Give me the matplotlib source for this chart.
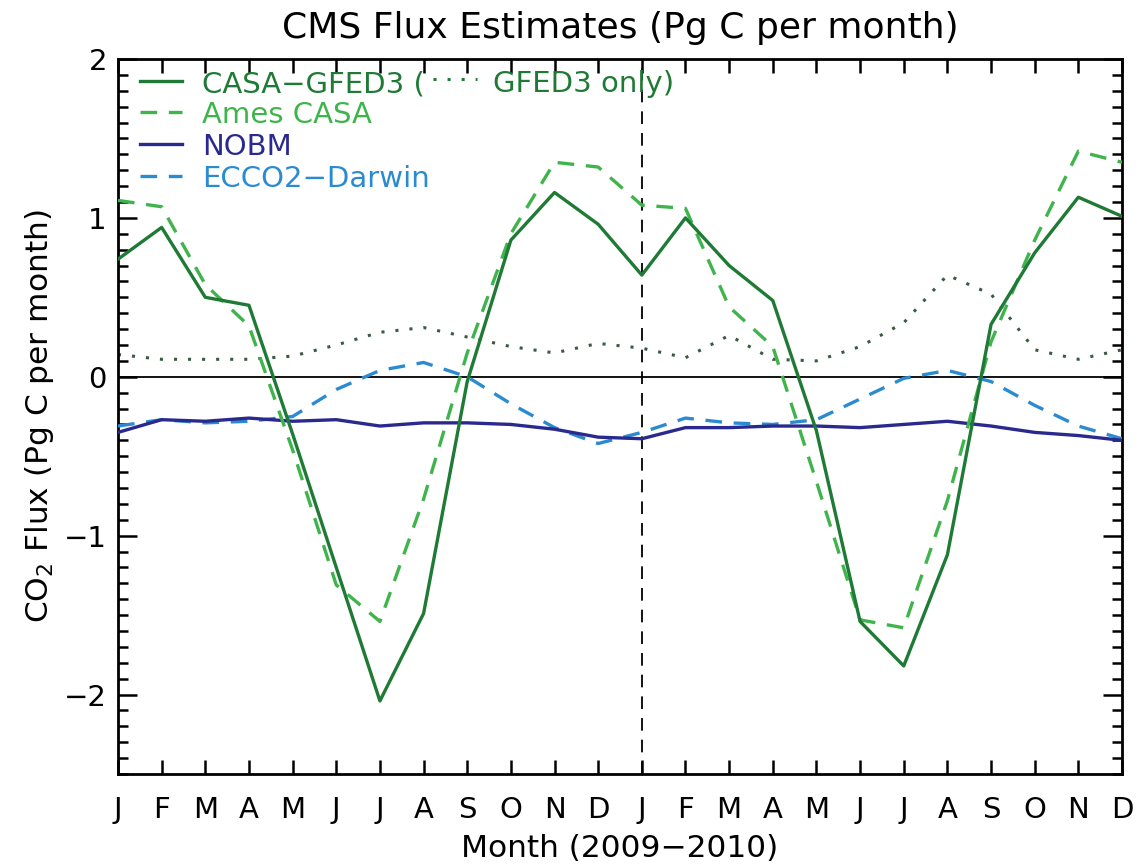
import matplotlib
matplotlib.use("Agg")
import matplotlib.pyplot as plt
from matplotlib.ticker import MultipleLocator, FixedLocator
from matplotlib.lines import Line2D

months = ["J", "F", "M", "A", "M", "J", "J", "A", "S", "O", "N", "D"] * 2

casa_gfed3 = [0.74, 0.94, 0.50, 0.45, -0.36, -1.20, -2.04, -1.49, -0.03, 0.86, 1.16, 0.96,
              0.64, 1.00, 0.70, 0.48, -0.34, -1.54, -1.82, -1.12, 0.33, 0.78, 1.13, 1.01]
ames_casa = [1.11, 1.07, 0.58, 0.32, -0.46, -1.31, -1.54, -0.77, 0.15, 0.90, 1.35, 1.32,
             1.08, 1.06, 0.44, 0.19, -0.66, -1.53, -1.58, -0.78, 0.22, 0.86, 1.42, 1.35]
gfed3_only = [0.14, 0.11, 0.11, 0.11, 0.13, 0.20, 0.28, 0.31, 0.25, 0.19, 0.15, 0.21,
              0.18, 0.12, 0.26, 0.11, 0.10, 0.19, 0.34, 0.64, 0.52, 0.17, 0.11, 0.17]
nobm = [-0.35, -0.27, -0.28, -0.26, -0.28, -0.27, -0.31, -0.29, -0.29, -0.30, -0.33, -0.38,
        -0.39, -0.32, -0.32, -0.31, -0.31, -0.32, -0.30, -0.28, -0.31, -0.35, -0.37, -0.40]
ecco2_darwin = [-0.31, -0.27, -0.29, -0.28, -0.25, -0.08, 0.04, 0.09, 0.00, -0.17, -0.32, -0.42,
                -0.35, -0.26, -0.29, -0.30, -0.27, -0.14, -0.01, 0.04, -0.03, -0.18, -0.31, -0.39]

C_CASA = "#1f7a35"
C_AMES = "#40b44c"
C_GFED = "#3a5a42"
C_NOBM = "#2a2a8e"
C_ECCO = "#2b8bd0"
DASH = (0, (5, 3.5))
DOT = (0, (1, 3.6))

plt.rcParams["font.family"] = ["DejaVu Sans"]

W, H = 1139, 867
fig = plt.figure(figsize=(W / 100, H / 100), dpi=100)
AX_L, AX_R, AX_T, AX_B = 118, 1122, 59, 774
ax = fig.add_axes([AX_L / W, 1 - AX_B / H, (AX_R - AX_L) / W, (AX_B - AX_T) / H])

x = list(range(len(months)))
lw = 2.4
ax.axhline(0, color="black", lw=1.3, zorder=1)
ax.axvline(12, color="black", lw=1.3, ls=(0, (7, 5)), zorder=1)

ax.plot(x, gfed3_only, color=C_GFED, lw=2.2, ls=DOT, zorder=2)
ax.plot(x, ecco2_darwin, color=C_ECCO, lw=lw, ls=DASH, zorder=3)
ax.plot(x, nobm, color=C_NOBM, lw=lw, zorder=3)
ax.plot(x, ames_casa, color=C_AMES, lw=lw, ls=DASH, zorder=4)
ax.plot(x, casa_gfed3, color=C_CASA, lw=lw, zorder=5)

ax.set_xlim(0, 23)
ax.set_ylim(-2.5, 2.0)
ax.xaxis.set_major_locator(FixedLocator(x))
ax.set_xticklabels(months)
ax.yaxis.set_major_locator(FixedLocator([-2, -1, 0, 1, 2]))
ax.set_yticklabels(["\u22122", "\u22121", "0", "1", "2"])
ax.yaxis.set_minor_locator(MultipleLocator(0.1))

ax.tick_params(axis="both", which="both", direction="in", top=True, right=True,
               width=1.8, labelsize=21, colors="black")
ax.tick_params(axis="y", which="major", length=14, pad=8)
ax.tick_params(axis="y", which="minor", length=7)
ax.tick_params(axis="x", which="major", length=10, pad=16)
for s in ax.spines.values():
    s.set_linewidth(2.0)

ax.set_title("CMS Flux Estimates (Pg C per month)", fontsize=26, pad=15)
ax.set_xlabel("Month (2009\u22122010)", fontsize=22.5, labelpad=7)
ax.set_ylabel("CO$_2$ Flux (Pg C per month)", fontsize=22.5, labelpad=6)

# legend drawn row by row at pixel positions of the figure
def fx(px):
    return px / W

def fy(py):
    return 1 - py / H

LEG_FS = 21
line_x0, line_x1, text_x = 140, 182, 202
rows = [81, 112, 144, 176]
entries = [("CASA\u2212GFED3 (", C_CASA, "-"),
           ("Ames CASA", C_AMES, DASH),
           ("NOBM", C_NOBM, "-"),
           ("ECCO2\u2212Darwin", C_ECCO, DASH)]
renderer = fig.canvas.get_renderer()
for (label, color, style), py in zip(entries, rows):
    fig.add_artist(Line2D([fx(line_x0), fx(line_x1)], [fy(py), fy(py)], color=color,
                          lw=lw, ls=style, transform=fig.transFigure))
    t = fig.text(fx(text_x), fy(py), label, color=color, fontsize=LEG_FS,
                 va="center_baseline", ha="left")
    if label.startswith("CASA"):
        bb = t.get_window_extent(renderer)
        d0 = bb.x1 + 8
        d1 = d0 + 44
        fig.add_artist(Line2D([d0 / W, d1 / W], [fy(py - 2), fy(py - 2)], color=C_CASA,
                              lw=2.2, ls=DOT, transform=fig.transFigure))
        fig.text((d1 + 16) / W, fy(py), "GFED3 only)", color=C_CASA, fontsize=LEG_FS,
                 va="center_baseline", ha="left")

fig.savefig("out.png", dpi=100)
